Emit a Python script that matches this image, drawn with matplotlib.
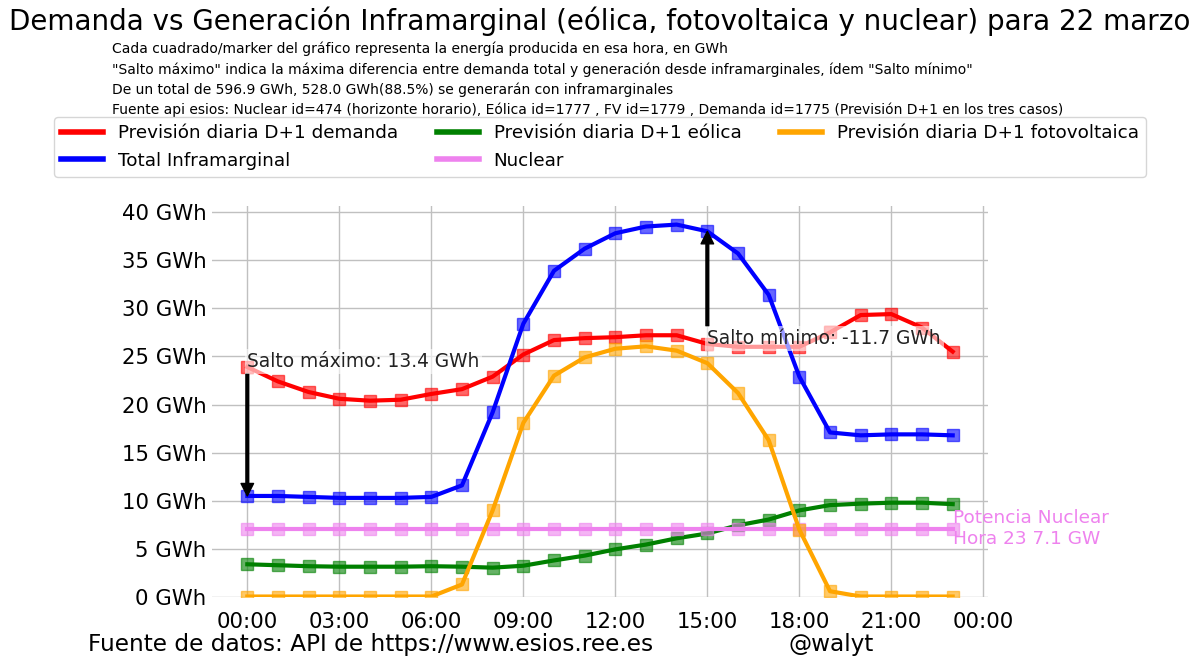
import matplotlib
matplotlib.use("Agg")
from matplotlib import pyplot as plt
from matplotlib.ticker import FuncFormatter

# hourly values (GWh), 22 marzo
horas = list(range(24))
demanda = [23.9, 22.4, 21.3, 20.6, 20.4, 20.5, 21.1, 21.6, 22.9, 25.2, 26.7, 26.9,
           27.0, 27.2, 27.2, 26.3, 26.0, 26.0, 26.0, 27.5, 29.3, 29.4, 28.0, 25.5]
inframarginal = [10.5, 10.5, 10.4, 10.3, 10.3, 10.3, 10.4, 11.6, 19.2, 28.4, 33.9, 36.2,
                 37.8, 38.5, 38.7, 38.0, 35.7, 31.4, 22.9, 17.1, 16.8, 16.9, 16.9, 16.8]
eolica = [3.4, 3.3, 3.2, 3.15, 3.15, 3.15, 3.2, 3.15, 3.05, 3.25, 3.8, 4.3,
          4.95, 5.45, 6.1, 6.6, 7.45, 8.05, 9.0, 9.55, 9.7, 9.8, 9.8, 9.65]
fotovoltaica = [0.05, 0.05, 0.05, 0.05, 0.05, 0.05, 0.05, 1.3, 9.0, 18.1, 23.0, 24.9,
                25.8, 26.05, 25.6, 24.3, 21.2, 16.3, 7.0, 0.6, 0.05, 0.05, 0.05, 0.05]
nuclear = [7.1] * 24

xticks = [0, 3, 6, 9, 12, 15, 18, 21, 24]
xtick_labels = ["00:00", "03:00", "06:00", "09:00", "12:00", "15:00", "18:00", "21:00", "00:00"]
yticks = [0, 5, 10, 15, 20, 25, 30, 35, 40]

salto_max = demanda[0] - inframarginal[0]
salto_min = demanda[15] - inframarginal[15]

fig = plt.figure(figsize=(12, 6.66), dpi=100)
ax = fig.add_axes([0.1767, 0.1036, 0.6466, 0.5871])

series = [
    (demanda, "red", "Previsión diaria D+1 demanda"),
    (inframarginal, "blue", "Total Inframarginal"),
    (eolica, "green", "Previsión diaria D+1 eólica"),
    (nuclear, "violet", "Nuclear"),
    (fotovoltaica, "orange", "Previsión diaria D+1 fotovoltaica"),
]
for valores, color, nombre in series:
    ax.plot(horas, valores, color=color, lw=3, label=nombre)
    ax.plot(horas, valores, color=color, lw=0, marker="s", markersize=9, alpha=0.6)

ax.set_ylim(bottom=0)
ax.set_xticks(xticks)
ax.set_xticklabels(xtick_labels)
ax.set_yticks(yticks)
ax.yaxis.set_major_formatter(FuncFormatter(lambda v, p: f"{v:.0f} GWh"))
ax.tick_params(labelsize=15.3, length=0)
ax.tick_params(axis="y", pad=4)
ax.tick_params(axis="x", pad=11)
ax.grid(True, color="#c0c0c0", lw=1)
for s in ax.spines.values():
    s.set_visible(False)

# annotations for the jumps
caja = dict(facecolor="white", edgecolor="none", alpha=0.6, pad=2)
flecha = dict(facecolor="black", width=2, headwidth=9, headlength=9)
ax.annotate(f"Salto máximo: {salto_max:.1f} GWh", xy=(0, inframarginal[0]),
            xytext=(0, demanda[0]), fontsize=13.4, color="#222222",
            bbox=caja, arrowprops=flecha)
ax.annotate(f"Salto mínimo: {salto_min:.1f} GWh", xy=(15, inframarginal[15]),
            xytext=(15, demanda[15]), fontsize=13.4, color="#222222",
            bbox=caja, arrowprops=flecha)
ax.text(23, nuclear[23], f"Potencia Nuclear\nHora 23 {nuclear[23]} GW",
        color="violet", fontsize=13.3, va="center")

leg = fig.legend(ncol=3, fontsize=13.2, handlelength=2.3, columnspacing=2.1,
                 loc="upper center", bbox_to_anchor=(0.5, 0.838))
for line in leg.get_lines():
    line.set_linewidth(4)

fig.text(0.5, 0.99, "Demanda vs Generación Inframarginal (eólica, fotovoltaica y nuclear) para 22 marzo",
         ha="center", va="top", fontsize=20)
subtitulo = ("Cada cuadrado/marker del gráfico representa la energía producida en esa hora, en GWh\n"
             "\"Salto máximo\" indica la máxima diferencia entre demanda total y generación desde inframarginales, ídem \"Salto mínimo\"\n"
             "De un total de 596.9 GWh, 528.0 GWh(88.5%) se generarán con inframarginales\n"
             "Fuente api esios: Nuclear id=474 (horizonte horario), Eólica id=1777 , FV id=1779 , Demanda id=1775 (Previsión D+1 en los tres casos)")
fig.text(0.0933, 0.937, subtitulo, ha="left", va="top", fontsize=10, linespacing=1.5)

fig.text(0.073, 0.032, "Fuente de datos: API de https://www.esios.ree.es", fontsize=16.7, va="center")
fig.text(0.6925, 0.032, "@walyt", fontsize=16.7, ha="center", va="center")

fig.savefig("out.png", dpi=100)
